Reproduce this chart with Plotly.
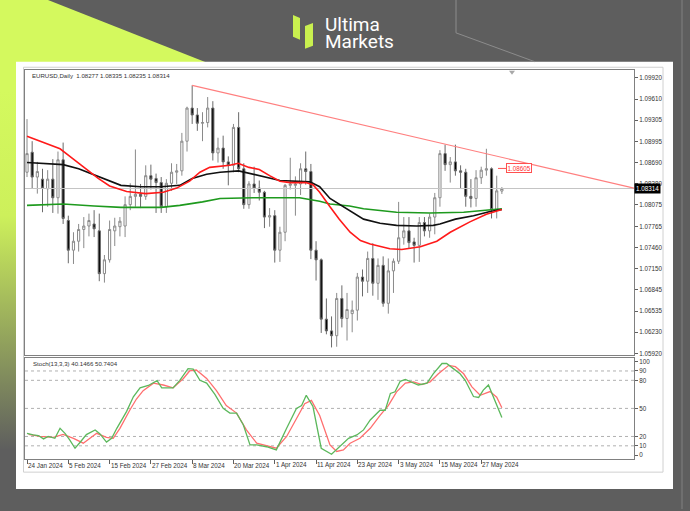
import plotly.graph_objects as go

W, H = 690, 511

# ---------------- data ----------------
date_labels = ["24 Jan 2024", "5 Feb 2024", "15 Feb 2024", "27 Feb 2024", "8 Mar 2024",
               "20 Mar 2024", "1 Apr 2024", "11 Apr 2024", "23 Apr 2024", "3 May 2024",
               "15 May 2024", "27 May 2024"]
date_tick_bars = [0, 8, 16, 24, 32, 40, 48, 56, 64, 72, 80, 88]

opens = [1.0855, 1.0884, 1.0848, 1.0845, 1.0831, 1.0845, 1.0818, 1.0873, 1.0785, 1.0742,
         1.0755, 1.0772, 1.0777, 1.0780, 1.0770, 1.0708, 1.0728, 1.0770, 1.0776, 1.0777,
         1.0808, 1.0820, 1.0823, 1.0820, 1.0850, 1.0846, 1.0840, 1.0805, 1.0839, 1.0855,
         1.0857, 1.0900, 1.0948, 1.0938, 1.0926, 1.0927, 1.0948, 1.0883, 1.0890, 1.0870,
         1.0865, 1.0920, 1.0860, 1.0808, 1.0838, 1.0832, 1.0826, 1.0790, 1.0792, 1.0742,
         1.0768, 1.0836, 1.0836, 1.0838, 1.0860, 1.0856, 1.0742, 1.0728, 1.0642, 1.0625,
         1.0618, 1.0672, 1.0643, 1.0650, 1.0655, 1.0703, 1.0697, 1.0730, 1.0694, 1.0720,
         1.0665, 1.0712, 1.0726, 1.0760, 1.0770, 1.0754, 1.0749, 1.0782, 1.0770, 1.0790,
         1.0818, 1.0882, 1.0866, 1.0870, 1.0857, 1.0855, 1.0820, 1.0817, 1.0847, 1.0858,
         1.0860, 1.0801, 1.08277]
highs = [1.0932, 1.0900, 1.0870, 1.0860, 1.0858, 1.0874, 1.0885, 1.0898, 1.0792, 1.0768,
         1.0780, 1.0790, 1.0795, 1.0800, 1.0795, 1.0735, 1.0785, 1.0789, 1.0790, 1.0820,
         1.0839, 1.0888, 1.0838, 1.0865, 1.0866, 1.0853, 1.0848, 1.0845, 1.0868, 1.0867,
         1.0912, 1.0950, 1.0981, 1.0948, 1.0942, 1.0964, 1.0958, 1.0905, 1.0908, 1.0878,
         1.0925, 1.0942, 1.0868, 1.0842, 1.0863, 1.0843, 1.0828, 1.0803, 1.0800, 1.0776,
         1.0838, 1.0876, 1.0849, 1.0868, 1.0885, 1.0867, 1.0755, 1.0730, 1.0672, 1.0646,
         1.0680, 1.0691, 1.0680, 1.0669, 1.0709, 1.0714, 1.0740, 1.0752, 1.0730, 1.0733,
         1.0730, 1.0730, 1.0812, 1.0790, 1.0790, 1.0760, 1.0790, 1.0790, 1.0795, 1.0825,
         1.0887, 1.0895, 1.0877, 1.0895, 1.0865, 1.0860, 1.0845, 1.0858, 1.0863, 1.0889,
         1.0862, 1.0850, 1.08335]
lows = [1.0848, 1.0832, 1.0824, 1.0797, 1.0805, 1.0796, 1.0795, 1.0780, 1.0723, 1.0722,
        1.0740, 1.0745, 1.0762, 1.0761, 1.0697, 1.0695, 1.0724, 1.0748, 1.0762, 1.0761,
        1.0800, 1.0805, 1.0803, 1.0815, 1.0830, 1.0796, 1.0796, 1.0796, 1.0828, 1.0838,
        1.0850, 1.0885, 1.0925, 1.0915, 1.0900, 1.0920, 1.0872, 1.0869, 1.0860, 1.0836,
        1.0855, 1.0855, 1.0802, 1.0802, 1.0825, 1.0814, 1.0774, 1.0776, 1.0724, 1.0725,
        1.0755, 1.0830, 1.0792, 1.0822, 1.0837, 1.0729, 1.0698, 1.0622, 1.0620, 1.0601,
        1.0602, 1.0630, 1.0611, 1.0623, 1.0640, 1.0675, 1.0680, 1.0676, 1.0670, 1.0660,
        1.0650, 1.0680, 1.0722, 1.0750, 1.0745, 1.0724, 1.0725, 1.0762, 1.0760, 1.0765,
        1.0805, 1.0857, 1.0840, 1.0850, 1.0832, 1.0805, 1.0804, 1.0805, 1.0838, 1.0850,
        1.0788, 1.0788, 1.08235]
closes = [1.0882, 1.0848, 1.0856, 1.0832, 1.0845, 1.0818, 1.0873, 1.0788, 1.0742, 1.0755,
          1.0772, 1.0777, 1.0785, 1.0773, 1.0708, 1.0728, 1.0772, 1.0777, 1.0784, 1.0808,
          1.0820, 1.0823, 1.0820, 1.0850, 1.0845, 1.0840, 1.0805, 1.0839, 1.0855, 1.0857,
          1.0900, 1.0948, 1.0938, 1.0926, 1.0927, 1.0948, 1.0883, 1.0890, 1.0870, 1.0865,
          1.0920, 1.0860, 1.0808, 1.0838, 1.0832, 1.0826, 1.0790, 1.0792, 1.0742, 1.0768,
          1.0836, 1.0838, 1.0838, 1.0860, 1.0856, 1.0742, 1.0728, 1.0642, 1.0625, 1.0618,
          1.0672, 1.0643, 1.0656, 1.0655, 1.0703, 1.0697, 1.0730, 1.0694, 1.0720, 1.0665,
          1.0712, 1.0726, 1.0760, 1.0770, 1.0753, 1.0749, 1.0782, 1.0770, 1.0790, 1.0818,
          1.0882, 1.0866, 1.0870, 1.0857, 1.0855, 1.0820, 1.0817, 1.0847, 1.0858, 1.0860,
          1.0801, 1.0828, 1.08314]

# moving averages (bar position, price)
ma_red_x = [0, 2.5, 5, 6.4, 8.3, 11.5, 13.8, 16, 19.3, 23, 26.4, 29, 31.5, 33.5, 35.4, 39.3,
            40.9, 43, 45, 47, 49, 51, 54, 55.4, 56.7, 58.7, 60.5, 62.6, 64.6, 66.5, 70.3,
            72.6, 76.2, 79.4, 82, 85.8, 89, 92]
ma_red_y = [1.0907, 1.0900, 1.0892, 1.0889, 1.0878, 1.0859, 1.0846, 1.0835, 1.0827, 1.0824,
            1.0826, 1.0832, 1.0842, 1.0855, 1.0862, 1.0865, 1.0868, 1.0862, 1.0859, 1.0850,
            1.0842, 1.0840, 1.0840, 1.0837, 1.0826, 1.0805, 1.0787, 1.0768, 1.0756, 1.0751,
            1.0744, 1.0743, 1.0747, 1.0755, 1.0768, 1.0783, 1.0794, 1.0801]
ma_black_x = [0, 3, 7, 10, 13.8, 16, 18.2, 22, 26, 29.6, 32, 34.8, 37.4, 41, 43.8, 49, 54.8,
              56.7, 58.7, 62.5, 65.2, 68.4, 71.6, 75.5, 78.7, 80, 83, 86.5, 89.7, 92]
ma_black_y = [1.0869, 1.0868, 1.0866, 1.0860, 1.0849, 1.0842, 1.0836, 1.0834, 1.0834, 1.0836,
              1.0846, 1.0852, 1.0855, 1.0857, 1.0852, 1.0843, 1.0841, 1.0834, 1.0817, 1.0800,
              1.0787, 1.0781, 1.0778, 1.0777, 1.0778, 1.0780, 1.0787, 1.0792, 1.0798, 1.0801]
ma_green_x = [0, 7, 13, 18.2, 26, 29.6, 34, 37.4, 43.8, 52.8, 56.7, 58.7, 62.5, 65.2, 71.6,
              78, 84.6, 91, 92]
ma_green_y = [1.0807, 1.0809, 1.0806, 1.0804, 1.0804, 1.0807, 1.0812, 1.0817, 1.0818, 1.0818,
              1.0813, 1.0809, 1.0806, 1.0802, 1.0797, 1.0796, 1.0797, 1.0801, 1.0802]

# trend line from the March high to the right edge
trend_x = [32, 117.6]
trend_y = [1.0981, 1.0832]
last_price = 1.08314
level_price = 1.08605

price_ticks = [1.09920, 1.09610, 1.09305, 1.08995, 1.08690, 1.08380, 1.08075, 1.07765,
               1.07460, 1.07150, 1.06845, 1.06535, 1.06230, 1.05920]

# stochastic (13,3,3)
stoch_main_x = [0, 1.2, 2.2, 3.2, 4.1, 5.4, 6.4, 7.4, 8.3, 9.3, 10.3, 11.5, 13.2, 14.1, 15.4,
                16.4, 17.4, 19.3, 20.6, 21.9, 23.5, 25.2, 26.1, 28.3, 29.6, 31.2, 32.2, 33.5,
                34.8, 36.4, 38, 39.3, 40.6, 41.9, 43.2, 44.5, 46.4, 48.3, 50.3, 52.2, 53.2,
                54.1, 55.4, 57, 59, 60.6, 62.3, 63.9, 65.2, 66.5, 68.4, 69.4, 70.4, 71.3,
                72.3, 73.3, 74.5, 75.8, 77.5, 78.7, 80.4, 81.3, 82.6, 83.9, 84.9, 86.5, 87.5,
                88.4, 89.4, 90.4, 91.3, 92]
stoch_main_y = [23.4, 21.6, 21, 17.4, 20, 18, 28.7, 23, 16, 7.4, 13.8, 22, 27, 23, 14, 18,
                28.7, 46.8, 62.4, 72, 74.5, 79.6, 72, 72, 80, 92.5, 92, 80, 77, 65, 50, 45,
                45, 32.6, 11, 11, 9, 5.7, 28.7, 50, 53, 64, 52, 7.4, 1, 9, 18, 21.6, 27,
                37.6, 48, 48, 66, 67.7, 79, 81, 78.4, 75, 77, 87, 98, 98, 92.5, 87, 80,
                62.7, 61.7, 69.5, 75, 61, 50, 40.1466]
stoch_sig_x = [0.3, 2.5, 5.1, 7, 9, 10.9, 13.5, 15.4, 16.7, 18, 19.9, 21.2, 22.5, 24.5, 26.4,
               28.3, 30.3, 31.5, 32.8, 34.8, 36.7, 38.6, 40.6, 42.5, 44.5, 46.4, 48.3, 50.3,
               52.2, 53.8, 55.1, 56.7, 58.7, 60, 61.3, 62.6, 64.5, 66.5, 68.4, 70, 71.6,
               73.3, 74.9, 76.5, 78.1, 79.7, 81.7, 83, 84.6, 86.2, 87.8, 89.7, 91, 92]
stoch_sig_y = [22.3, 20, 19, 22.3, 18, 12.8, 23.4, 19, 18, 28.7, 48, 60, 69, 77, 75, 72, 82,
               90, 91, 82, 69, 53, 45, 27, 12.8, 10.3, 7.4, 20, 39, 55, 58.5, 42.5, 11, 4,
               5.7, 12.8, 18, 28.7, 42.5, 53, 67.7, 77, 78.4, 75.5, 78.4, 87, 96, 94.6, 87,
               73, 64, 68, 62, 50.7404]
stoch_levels = [10, 20, 50, 80, 90]
stoch_ticks = [0, 10, 20, 50, 80, 90, 100]

# ---------------- geometry (pixels) ----------------
PX_L, PX_R = 25, 634
MAIN_T, MAIN_B = 70, 356
ST_T, ST_B = 359, 461
XR = [-0.39, 117.6]


def yd(top, bottom):
    return [1 - bottom / H, 1 - top / H]


bars = list(range(len(opens)))
FONT = "Liberation Sans"
TXT = "#333333"

fig = go.Figure()

# background decoration (pixel subplot)
fig.add_trace(go.Scatter(
    x=[0, 48, 240, 240, 0, 0], y=[0, 0, 76, 520, 520, 0], fill="toself", mode="none",
    fillgradient=dict(type="vertical", start=90, stop=450,
                      colorscale=[[0, "#d4f95e"], [0.35, "#cdf05b"], [1, "#5e5e5e"]]),
    hoverinfo="skip", showlegend=False, xaxis="x", yaxis="y"))
fig.add_trace(go.Scatter(
    x=[16, 673, 673, 16, 16], y=[62, 62, 491, 491, 62], fill="toself", fillcolor="white",
    mode="none", hoverinfo="skip", showlegend=False, xaxis="x", yaxis="y"))

# main chart
fig.add_trace(go.Scatter(x=[XR[0], XR[1]], y=[last_price, last_price], mode="lines",
                         line=dict(color="#c4c4c4", width=1), hoverinfo="skip",
                         showlegend=False, xaxis="x2", yaxis="y2"))
fig.add_trace(go.Candlestick(
    x=bars, open=opens, high=highs, low=lows, close=closes,
    increasing=dict(line=dict(color="#8a8a8a", width=1), fillcolor="white"),
    decreasing=dict(line=dict(color="#6a6a6a", width=1), fillcolor="black"),
    showlegend=False, xaxis="x2", yaxis="y2"))
fig.add_trace(go.Scatter(x=ma_green_x, y=ma_green_y, mode="lines",
                         line=dict(color="#1e9a1e", width=1.6), showlegend=False,
                         xaxis="x2", yaxis="y2"))
fig.add_trace(go.Scatter(x=ma_black_x, y=ma_black_y, mode="lines",
                         line=dict(color="#111111", width=1.6), showlegend=False,
                         xaxis="x2", yaxis="y2"))
fig.add_trace(go.Scatter(x=ma_red_x, y=ma_red_y, mode="lines",
                         line=dict(color="#ff1a1a", width=1.6), showlegend=False,
                         xaxis="x2", yaxis="y2"))
fig.add_trace(go.Scatter(x=trend_x, y=trend_y, mode="lines",
                         line=dict(color="#ff7f7f", width=1.2), showlegend=False,
                         xaxis="x2", yaxis="y2"))

# stochastic
for lv in stoch_levels:
    fig.add_trace(go.Scatter(x=[XR[0], XR[1]], y=[lv, lv], mode="lines",
                             line=dict(color="#b0b0b0", width=1, dash="dot"),
                             hoverinfo="skip", showlegend=False, xaxis="x3", yaxis="y3"))
fig.add_trace(go.Scatter(x=stoch_sig_x, y=stoch_sig_y, mode="lines",
                         line=dict(color="#ff6f6f", width=1.3), showlegend=False,
                         xaxis="x3", yaxis="y3"))
fig.add_trace(go.Scatter(x=stoch_main_x, y=stoch_main_y, mode="lines",
                         line=dict(color="#5cb85c", width=1.3), showlegend=False,
                         xaxis="x3", yaxis="y3"))

axis_line = dict(showline=True, mirror=True, linecolor="#808080", linewidth=1,
                 showgrid=False, zeroline=False)
tickfont = dict(family=FONT, size=6.3, color=TXT)

fig.update_layout(
    width=W, height=H, margin=dict(l=0, r=0, t=0, b=0),
    paper_bgcolor="#5e5e5e", plot_bgcolor="rgba(0,0,0,0)",
    showlegend=False, boxgap=0.4,
    xaxis=dict(domain=[0, 1], range=[0, W], visible=False, fixedrange=True),
    yaxis=dict(domain=[0, 1], range=[H, 0], visible=False, fixedrange=True),
    xaxis2=dict(domain=[PX_L / W, PX_R / W], range=XR, anchor="y2", showticklabels=False,
                ticks="", rangeslider=dict(visible=False), **axis_line),
    yaxis2=dict(domain=yd(MAIN_T, MAIN_B), range=[1.05906, 1.10036], anchor="x2",
                side="right", tickvals=price_ticks,
                ticktext=[f"{v:.5f}" for v in price_ticks], ticks="outside", ticklen=3,
                tickcolor="#606060", tickfont=tickfont, **axis_line),
    xaxis3=dict(domain=[PX_L / W, PX_R / W], range=XR, anchor="y3",
                tickvals=date_tick_bars, showticklabels=False, ticks="outside", ticklen=4,
                tickcolor="#606060", **axis_line),
    yaxis3=dict(domain=yd(ST_T, ST_B), range=[-4.3, 104.3], anchor="x3", side="right",
                tickvals=stoch_ticks, ticktext=[str(v) for v in stoch_ticks],
                ticks="outside", ticklen=3, tickcolor="#606060", tickfont=tickfont,
                **axis_line),
)

shapes = [
    # MT4 window border
    dict(type="rect", xref="x", yref="y", x0=23.5, y0=67.5, x1=663, y1=474,
         line=dict(color="#d0d0d0", width=1), layer="above"),
    # decorative lines on the dark background
    dict(type="path", xref="x", yref="y", path="M 456 0 L 456 33 L 535 62",
         line=dict(color="#8c8c8c", width=1), layer="above"),
    dict(type="line", xref="x", yref="y", x0=682, y0=0, x1=682, y1=H,
         line=dict(color="#767676", width=1.5), layer="above"),
    # logo icon
    dict(type="path", xref="x", yref="y", path="M 293 15 L 300 18 L 300 40 L 293 37 Z",
         fillcolor="#c9f04f", line=dict(width=0), layer="above"),
    dict(type="path", xref="x", yref="y", path="M 305 26 L 313 23 L 313 46 L 305 49 Z",
         fillcolor="#c9f04f", line=dict(width=0), layer="above"),
    # chart shift marker
    dict(type="path", xref="x", yref="y", path="M 509 71 L 515 71 L 512 75 Z",
         fillcolor="#a8a8a8", line=dict(width=0), layer="above"),
    # short connector for the level label
    dict(type="line", xref="x", yref="y2", x0=498, x1=506, y0=level_price, y1=level_price,
         line=dict(color="#ff5050", width=1), layer="above"),
]
fig.update_layout(shapes=shapes)

annotations = [
    dict(text="Ultima", x=323, y=25, xref="x", yref="y", xanchor="left", yanchor="middle",
         showarrow=False, font=dict(family="Roboto", size=19, color="white")),
    dict(text="Markets", x=323, y=42, xref="x", yref="y", xanchor="left", yanchor="middle",
         showarrow=False, font=dict(family="Roboto", size=19, color="white")),
    dict(text="EURUSD,Daily  1.08277 1.08335 1.08235 1.08314", x=30, y=76, xref="x",
         yref="y", xanchor="left", yanchor="middle", showarrow=False,
         font=dict(family=FONT, size=6.1, color=TXT)),
    dict(text="Stoch(13,3,3) 40.1466 50.7404", x=31, y=365, xref="x", yref="y",
         xanchor="left", yanchor="middle", showarrow=False,
         font=dict(family=FONT, size=6.1, color=TXT)),
    dict(text="1.08314", x=634, y=last_price, xref="x", yref="y2", xanchor="left",
         yanchor="middle", showarrow=False, bgcolor="black", borderpad=1,
         font=dict(family=FONT, size=6.3, color="white")),
    dict(text="1.08605", x=506, y=level_price, xref="x", yref="y2", xanchor="left",
         yanchor="middle", showarrow=False, bgcolor="white", bordercolor="#ff5050",
         borderwidth=1, borderpad=0.5, font=dict(family=FONT, size=6.3, color="#ff3030")),
]
for bar, lab in zip(date_tick_bars, date_labels):
    annotations.append(dict(text=lab, x=bar, y=467, xref="x3", yref="y", xanchor="left",
                            yanchor="middle", xshift=-1, showarrow=False,
                            font=dict(family=FONT, size=6.3, color=TXT)))
fig.update_layout(annotations=annotations)

fig.write_html("out.html",
               config={"displayModeBar": False, "staticPlot": True},
               post_script="document.body.style.margin='0px';"
                           "document.body.style.overflow='hidden';")
